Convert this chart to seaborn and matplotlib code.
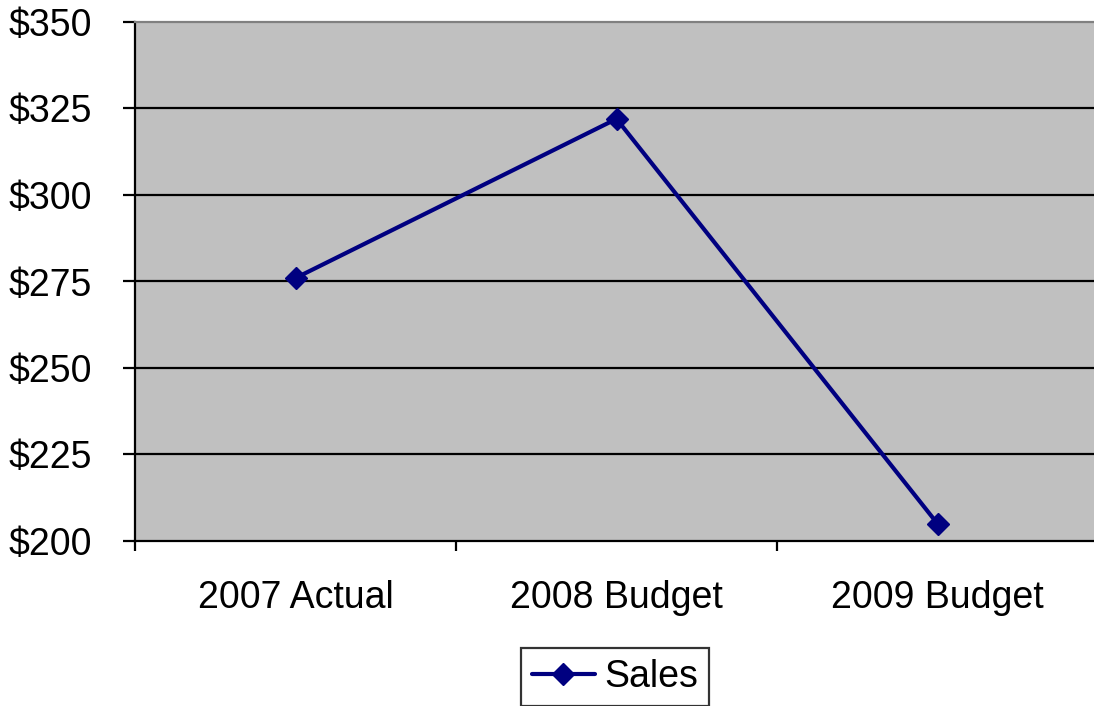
import matplotlib
matplotlib.use("Agg")
import matplotlib.pyplot as plt
from matplotlib.ticker import FixedLocator, FuncFormatter
import seaborn as sns
import pandas as pd

categories = ["2007 Actual", "2008 Budget", "2009 Budget"]
sales = [276, 322, 205]
y_ticks = [200, 225, 250, 275, 300, 325, 350]

sns.set_theme(style="white")
plt.rcParams["font.family"] = ["Liberation Sans", "DejaVu Sans"]

df = pd.DataFrame({"period": categories, "Sales": sales})

fig = plt.figure(figsize=(10.94, 7.06), dpi=100)
ax = fig.add_axes([135 / 1094, 165 / 706, 963 / 1094, 519 / 706])
ax.set_facecolor("#c0c0c0")

for v in y_ticks[1:-1]:
    ax.axhline(v, color="black", lw=1.6, zorder=1)

sns.lineplot(data=df, x="period", y="Sales", ax=ax, color="#000080",
             linewidth=3.0, marker="D", markersize=11.5,
             markeredgecolor="#000080", markeredgewidth=1,
             label="Sales", sort=False, zorder=3, legend=False)

ax.set_xlim(-0.5, 2.5)
ax.set_ylim(200, 350)
ax.set_yticks(y_ticks)
ax.yaxis.set_major_formatter(FuncFormatter(lambda v, _: f"${v:.0f}"))
ax.set_xticks(range(len(categories)))
ax.set_xticklabels(categories)
ax.xaxis.set_minor_locator(FixedLocator([-0.5, 0.5, 1.5, 2.5]))
ax.set_xlabel("")
ax.set_ylabel("")

ax.tick_params(axis="y", which="major", length=9, width=1.6, color="black",
               direction="out", left=True, labelsize=27, pad=22, labelcolor="black")
ax.tick_params(axis="x", which="major", length=0, labelsize=27, pad=28, labelcolor="black")
ax.tick_params(axis="x", which="minor", length=7, width=1.6, color="black",
               direction="out", bottom=True)

for side in ["left", "bottom"]:
    ax.spines[side].set_color("black")
    ax.spines[side].set_linewidth(1.6)
    ax.spines[side].set_visible(True)
ax.spines["top"].set_color("#808080")
ax.spines["top"].set_linewidth(1.6)
ax.spines["right"].set_visible(False)

handles, labels = ax.get_legend_handles_labels()
leg = fig.legend(handles, labels, loc="center",
                 bbox_to_anchor=(615 / 1094, 1 - 677 / 706),
                 fontsize=27, frameon=True, fancybox=False, edgecolor="black",
                 handlelength=1.67, handletextpad=0.25, borderpad=0.3,
                 borderaxespad=0)
leg.get_frame().set_linewidth(1.6)
for t in leg.get_texts():
    t.set_color("black")

fig.savefig("out.png", dpi=100)
